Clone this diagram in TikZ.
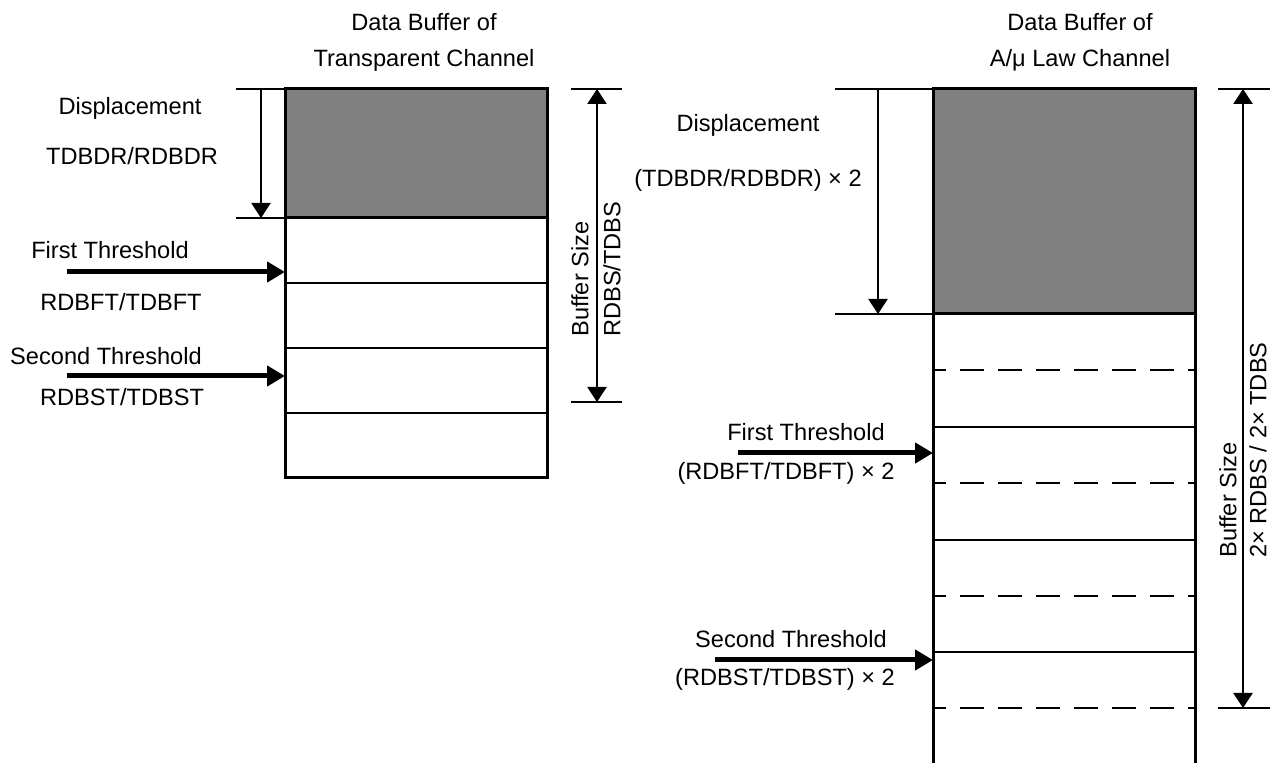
\documentclass[tikz,border=0pt]{standalone}
\usepackage{fontspec}
\setmainfont{Liberation Sans}
\usetikzlibrary{arrows.meta}

\definecolor{fillgray}{RGB}{128,128,128}

\tikzset{
  lbl/.style={inner sep=0pt, font=\fontsize{11.8}{14}\selectfont},
  vlbl/.style={lbl, rotate=90, anchor=west},
  bufframe/.style={line width=1.5pt},
  row/.style={line width=0.9pt},
  halfrow/.style={line width=0.9pt, dash pattern=on 12pt off 7pt, dash phase=5.5pt},
  tick/.style={line width=1.4pt},
  dim/.style={line width=1.2pt, {Triangle[length=7.5pt,width=9.5pt]}-{Triangle[length=7.5pt,width=9.5pt]}},
  disp/.style={line width=1.2pt, -{Triangle[length=7.5pt,width=9.5pt]}},
  thr/.style={line width=2.5pt, -{Triangle[length=9pt,width=10pt]}},
}

\begin{document}
\begin{tikzpicture}[x=0.5pt,y=-0.5pt]
\useasboundingbox (0,0) rectangle (1270,763);

% Transparent channel
\node[lbl] (ttitlea) at (424,22) {Data Buffer of};
\node[lbl] (ttitleb) at (424,60) {Transparent Channel};
\coordinate (tnw) at (285,89);
\coordinate (tse) at (547,478);
\fill[fillgray] (tnw) rectangle (547,218);
\foreach \y in {283,348,413}
  \draw[row] (285,\y) -- (547,\y);
\draw[bufframe] (285,218) -- (547,218);
\draw[bufframe] (tnw) rectangle (tse);

% displacement
\coordinate (tdta) at (236,89);
\coordinate (tdtb) at (285,89);
\coordinate (tdba) at (236,218);
\coordinate (tdbb) at (285,218);
\coordinate (tdtop) at (261,89);
\coordinate (tdbot) at (261,218);
\draw[tick] (tdta) -- (tdtb);
\draw[tick] (tdba) -- (tdbb);
\draw[disp] (tdtop) -- (tdbot);
\node[lbl] (tdisp) at (130,108) {Displacement};
\node[lbl] (tdispreg) at (132,156) {TDBDR/RDBDR};

% thresholds
\coordinate (tfa) at (67,272);
\coordinate (tfb) at (285,272);
\coordinate (tsa) at (67,376);
\coordinate (tsb) at (285,376);
\draw[thr] (tfa) -- (tfb);
\draw[thr] (tsa) -- (tsb);
\node[lbl] (tfirst) at (110,250) {First Threshold};
\node[lbl] (tfirstreg) at (121,302) {RDBFT/TDBFT};
\node[lbl] (tsecond) at (106,356) {Second Threshold};
\node[lbl] (tsecondreg) at (122,397) {RDBST/TDBST};

% buffer size
\coordinate (tsta) at (571,89);
\coordinate (tstb) at (622,89);
\coordinate (tsba) at (571,402);
\coordinate (tsbb) at (622,402);
\coordinate (tstop) at (597,89);
\coordinate (tsbot) at (597,402);
\draw[tick] (tsta) -- (tstb);
\draw[tick] (tsba) -- (tsbb);
\draw[dim] (tstop) -- (tsbot);
\node[vlbl] (tsize) at (580,337) {Buffer Size};
\node[vlbl] (tsizereg) at (612,337) {RDBS/TDBS};

% A/mu law channel
\node[lbl] (ltitlea) at (1080,22) {Data Buffer of};
\node[lbl] (ltitleb) at (1080,60) {A/μ Law Channel};
\coordinate (lnw) at (933,89);
\coordinate (lne) at (1195,89);
\coordinate (lsw) at (933,763);
\coordinate (lse) at (1195,763);
\fill[fillgray] (lnw) rectangle (1195,314);
\foreach \y in {427,540,652}
  \draw[row] (933,\y) -- (1195,\y);
\foreach \y in {370,483,596,708}
  \draw[halfrow] (933,\y) -- (1195,\y);
\draw[bufframe] (933,314) -- (1195,314);
\draw[bufframe] (lsw) -- (lnw) -- (lne) -- (lse);

% displacement
\coordinate (ldta) at (835,89);
\coordinate (ldba) at (835,314);
\coordinate (ldbb) at (933,314);
\coordinate (ldtop) at (878,89);
\coordinate (ldbot) at (878,314);
\draw[tick] (ldta) -- (lnw);
\draw[tick] (ldba) -- (ldbb);
\draw[disp] (ldtop) -- (ldbot);
\node[lbl] (ldisp) at (748,125) {Displacement};
\node[lbl] (ldispreg) at (748,180) {(TDBDR/RDBDR) × 2};

% thresholds
\coordinate (lfa) at (738,453);
\coordinate (lfb) at (933,453);
\coordinate (lsa) at (715,660);
\coordinate (lsb) at (933,660);
\draw[thr] (lfa) -- (lfb);
\draw[thr] (lsa) -- (lsb);
\node[lbl] (lfirst) at (806,432) {First Threshold};
\node[lbl] (lfirstreg) at (786,473) {(RDBFT/TDBFT) × 2};
\node[lbl] (lsecond) at (791,639) {Second Threshold};
\node[lbl] (lsecondreg) at (785,679) {(RDBST/TDBST) × 2};

% buffer size
\coordinate (lsta) at (1218,89);
\coordinate (lstb) at (1270,89);
\coordinate (lsba) at (1218,708);
\coordinate (lsbb) at (1270,708);
\coordinate (lstop) at (1243,89);
\coordinate (lsbot) at (1243,708);
\draw[tick] (lsta) -- (lstb);
\draw[tick] (lsba) -- (lsbb);
\draw[dim] (lstop) -- (lsbot);
\node[vlbl] (lsize) at (1228,558) {Buffer Size};
\node[vlbl] (lsizereg) at (1258,558) {2× RDBS / 2× TDBS};

\end{tikzpicture}
\end{document}
